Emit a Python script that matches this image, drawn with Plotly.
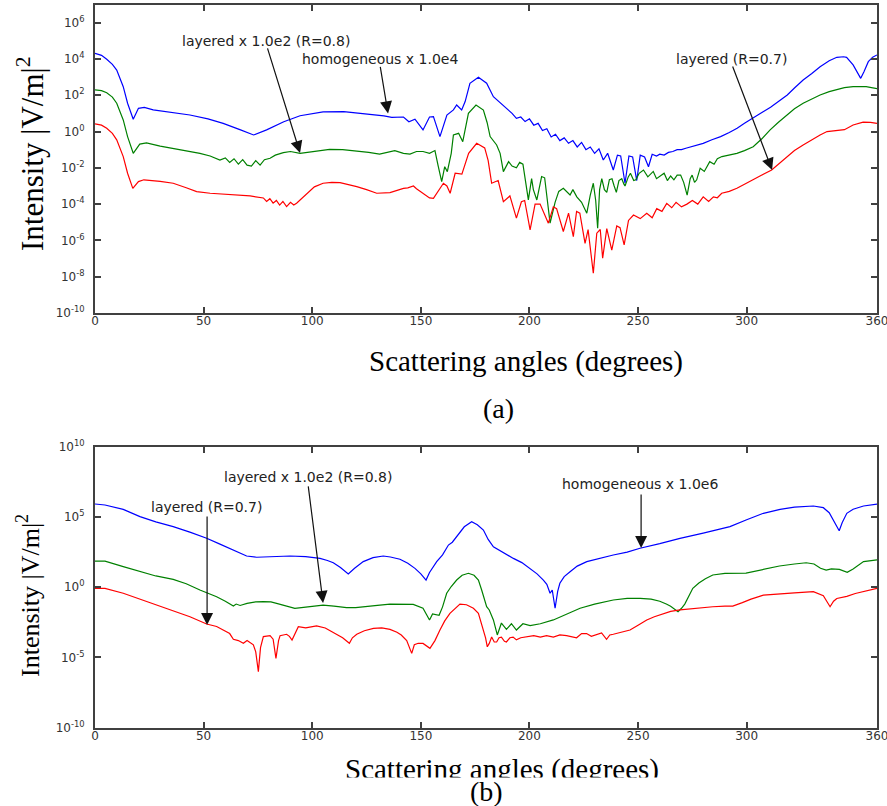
import plotly.graph_objects as go

W, H = 887, 806

# ---------------- Panel (a) data: angle (deg) and log10 intensity ----------------
a_blue_ang = [0, 3, 5.4, 8, 10, 13, 15, 17.6, 20, 22.7, 26.8, 35, 43.7, 52, 59, 67, 73, 79, 86.9, 94.4,
              105, 114.5, 123.5, 133, 136.6, 142, 144.5, 147.3, 151, 154, 155.8, 158.8, 162, 165, 166.5,
              168.8, 170.4, 172.6, 176.5, 180.3, 183.4, 186.5, 189.6, 192, 194, 196, 198, 200, 202, 204,
              206, 208, 210, 212, 214, 216, 218, 220, 222, 224, 226, 228, 230, 232, 234, 236, 238.6,
              240.5, 242, 244, 245.8, 247.5, 249.4, 251, 253, 254.8, 256.5, 258.5, 260, 262, 264, 266,
              268, 270, 272, 276, 280, 284, 288, 292, 295.6, 299, 303, 307, 311, 315, 318.7, 322, 326,
              330, 333.8, 338, 341.5, 344.6, 346, 349, 351, 352.5, 354, 356, 358, 360]
a_blue_log = [4.31, 4.2, 3.98, 3.7, 3.39, 2.47, 1.56, 0.68, 1.28, 1.33, 1.19, 1.05, 0.91, 0.7, 0.45, 0.09,
              -0.19, 0.09, 0.54, 0.87, 1.08, 1.1, 1.0, 0.86, 0.78, 0.8, 0.54, 0.68, 0.09, 0.8, 0.82, -0.28,
              0.91, 1.19, 1.46, 1.19, 1.65, 2.66, 2.99, 2.66, 1.92, 1.6, 1.28, 1.0, 0.73, 0.8, 0.55, 0.7,
              0.35, 0.45, 0.05, 0.15, -0.3, -0.15, -0.5, -0.35, -0.65, -0.5, -0.85, -0.6, -1.0, -0.85,
              -1.2, -0.95, -1.57, -1.2, -2.12, -1.3, -1.35, -2.85, -1.35, -1.4, -2.7, -1.3, -1.4, -1.94,
              -1.25, -1.35, -1.25, -1.3, -1.15, -1.1, -1.0, -1.0, -0.92, -0.8, -0.65, -0.45, -0.28, -0.05,
              0.18, 0.45, 0.73, 1.05, 1.34, 1.68, 2.01, 2.4, 2.84, 3.2, 3.57, 3.9, 4.09, 4.12, 4.09, 3.67,
              3.2, 2.93, 3.3, 3.85, 4.1, 4.22]

a_green_ang = [0, 3, 5.4, 8, 10, 13, 15, 17.6, 20.6, 23.7, 30, 36, 42, 48.3, 53, 57.5, 60, 62, 64, 66, 68,
               70, 72, 74, 76, 78, 80.6, 83, 86.7, 90, 94.4, 100, 108, 114, 120.5, 126, 131, 138, 142, 145,
               148, 151, 154, 156.5, 158, 159.6, 161, 162.2, 164, 165, 167.4, 169.3, 171.9, 175.4, 178.8,
               180.5, 181.9, 183.4, 184.9, 186.5, 188, 190.4, 192, 194, 195.5, 197, 199.5, 201, 201.8,
               203.4, 205.6, 207, 209.5, 211.8, 213.5, 215.6, 217, 218.7, 220, 221.8, 224, 226.4, 228,
               229.4, 230.5, 231.4, 232.3, 233.3, 234.5, 235.6, 236.8, 238, 239, 240, 241.2, 242.5, 243.5,
               244, 245.5, 246.5, 248, 249, 250.5, 252.5, 254.5, 256, 257, 258.5, 260, 262, 263.5, 265,
               266.5, 268, 269.6, 271, 272.6, 274, 274.9, 276, 277, 278.6, 280.5, 283, 285, 286.5, 288.6,
               292, 295.5, 299, 303, 307, 310.8, 314.5, 318.5, 322, 326, 330, 333.8, 338, 341.5, 345, 349,
               355, 360]
a_green_log = [2.29, 2.25, 2.14, 1.9, 1.56, 0.64, -0.28, -1.2, -0.69, -0.63, -0.8, -0.92, -1.05, -1.2,
               -1.35, -1.57, -1.45, -1.7, -1.5, -1.8, -1.55, -1.85, -1.9, -1.6, -1.85, -1.55, -1.47, -1.3,
               -1.16, -1.1, -1.2, -1.1, -0.98, -1.0, -1.07, -1.15, -1.24, -1.05, -1.2, -1.24, -1.1, -1.1,
               -1.2, -1.05, -1.9, -2.76, -1.94, -2.21, -1.2, -0.19, -0.1, -0.56, 1.0, 1.46, 1.18, 0.5,
               -0.28, -0.5, -0.74, -1.2, -2.21, -1.66, -1.9, -2.0, -1.7, -1.8, -3.77, -2.6, -3.2, -3.77,
               -2.48, -2.55, -5.05, -3.9, -3.3, -3.13, -3.3, -3.5, -3.2, -3.6, -3.9, -4.5, -3.5, -2.85,
               -3.8, -5.33, -3.2, -2.6, -3.2, -3.35, -2.65, -2.6, -3.0, -3.35, -2.7, -2.6, -2.9, -3.0,
               -2.5, -2.3, -2.7, -2.66, -2.3, -2.12, -2.5, -2.3, -2.2, -2.6, -2.48, -2.3, -2.7, -2.45,
               -2.66, -2.4, -2.4, -2.8, -3.5, -2.6, -2.4, -2.8, -2.66, -2.02, -2.2, -1.66, -1.8, -1.5,
               -1.38, -1.3, -1.2, -1.05, -0.84, -0.4, 0.09, 0.5, 0.91, 1.25, 1.56, 1.8, 2.01, 2.2, 2.33,
               2.42, 2.47, 2.47, 2.36]

a_red_ang = [0, 3, 5.4, 8, 10, 13, 15, 17.4, 20, 22.5, 30, 36, 42, 46.8, 53, 59, 65, 71.4, 77.5, 79, 80.5,
             82, 83.5, 85, 86.5, 88.2, 90, 91.5, 92.8, 95, 97.5, 101, 105, 109, 112.8, 116, 120.5, 125,
             129.7, 135.8, 139, 142, 144, 146.6, 148, 151, 154, 155.8, 158, 160.4, 162, 163.5, 165.8,
             168.9, 172, 175.7, 179.4, 181, 182.6, 185.6, 188, 191, 194, 196.3, 197.8, 200.3, 202.6,
             204.9, 208.7, 211, 212.5, 215.6, 218, 220.2, 221.7, 223.2, 225.6, 227, 229.4, 231, 232.6,
             233.7, 235.6, 237.9, 240.2, 241.7, 243.6, 245.6, 247.9, 251, 254, 256.5, 258.6, 261, 263.2,
             265.5, 267.5, 270, 272.5, 275, 277.5, 280, 282.5, 284.7, 286.5, 288.5, 292, 295.5, 299, 303,
             307, 311.5, 315, 318.5, 322, 326, 330, 333.8, 337, 341.5, 345, 349, 353.6, 357, 360]
a_red_log = [0.42, 0.35, 0.18, -0.1, -0.46, -1.38, -2.3, -3.13, -2.76, -2.66, -2.75, -2.85, -3.1, -3.31,
             -3.4, -3.44, -3.5, -3.55, -3.66, -3.85, -3.7, -3.95, -3.8, -4.05, -3.85, -4.14, -3.9, -4.05,
             -3.95, -3.7, -3.4, -3.05, -2.85, -2.8, -2.82, -2.9, -3.04, -3.2, -3.4, -3.37, -3.25, -3.13,
             -3.1, -3.0, -3.15, -3.4, -3.66, -3.68, -3.3, -2.85, -3.0, -3.4, -2.3, -2.35, -1.2, -0.65,
             -0.9, -1.6, -2.85, -2.7, -3.87, -3.55, -4.77, -3.87, -3.8, -5.42, -4.0, -4.0, -5.05, -4.15,
             -4.25, -5.51, -4.5, -5.79, -4.4, -4.5, -6.16, -5.4, -7.81, -5.6, -5.4, -6.98, -5.35, -6.53,
             -5.2, -5.3, -6.25, -4.9, -4.6, -4.8, -4.5, -4.75, -4.25, -4.4, -3.96, -4.2, -3.9, -4.15,
             -4.0, -3.8, -4.0, -3.6, -3.85, -3.6, -3.65, -3.4, -3.3, -3.13, -2.9, -2.67, -2.4, -2.12,
             -1.75, -1.38, -1.05, -0.74, -0.45, -0.19, 0.0, 0.05, 0.1, 0.36, 0.52, 0.5, 0.45]

# ---------------- Panel (b) data ----------------
b_blue_ang = [0, 4.6, 13, 20.7, 28, 36, 44, 51.4, 57, 62, 66, 69.8, 74.4, 82, 89.8, 97, 103.6, 107, 109.7,
              113, 116.6, 119.5, 123.5, 128, 132.7, 136, 140.4, 144, 147.3, 150, 152.4, 154, 157.3, 160,
              162.7, 164.5, 166.5, 170, 173.4, 176, 178.8, 181, 183.4, 188, 192.6, 196.5, 200.3, 203.5,
              206.4, 208, 209.5, 210.5, 211.8, 213, 214, 216, 218.7, 222, 226.4, 232, 238.6, 245, 250.9,
              260, 269.3, 280, 292.3, 300, 307.7, 315.4, 322, 330.7, 335.3, 338, 339.9, 342.6, 344,
              346.1, 349, 353.8, 360]
b_blue_log = [5.92, 5.85, 5.54, 5.02, 4.65, 4.31, 3.9, 3.48, 3.1, 2.77, 2.45, 2.22, 2.13, 2.18, 2.22, 2.18,
              2.05, 1.9, 1.74, 1.4, 0.94, 1.35, 1.82, 2.1, 2.22, 2.15, 1.99, 1.7, 1.34, 0.95, 0.51, 1.05,
              1.82, 2.3, 3.0, 3.2, 3.59, 4.3, 4.66, 4.45, 4.07, 3.4, 2.88, 2.45, 2.05, 1.75, 1.34, 0.95,
              0.51, 0.2, -0.43, -0.2, -1.5, -0.3, 0.28, 0.75, 1.1, 1.5, 1.82, 2.05, 2.29, 2.5, 2.77, 3.1,
              3.48, 3.85, 4.31, 4.8, 5.26, 5.54, 5.7, 5.78, 5.66, 5.3, 4.78, 4.02, 4.6, 5.26, 5.55, 5.78,
              5.92]

b_green_ang = [0, 4.6, 13, 20.7, 28, 36, 42, 48.3, 56, 60, 63.7, 65, 66.8, 70, 74, 77.5, 81, 83.6, 88, 92,
               98, 105, 110, 115.8, 120, 125, 130, 135.8, 141, 146.5, 151, 152.5, 154, 155.4, 156.4,
               158.4, 160, 161.9, 164, 166.5, 169, 171.9, 174.5, 176.5, 178, 180.3, 181.5, 183.4, 185.2,
               187.1, 189.4, 191.7, 194, 197, 200.3, 205, 211, 217, 223.3, 230, 238.6, 245, 251, 256, 260,
               263, 265, 268.4, 270, 271.5, 273, 275.2, 278, 281, 284.4, 290, 299.7, 307, 315.1, 322,
               327.4, 331, 334, 336.6, 339, 342.7, 346.3, 349, 353.8, 360]
b_green_log = [1.86, 1.86, 1.46, 1.1, 0.8, 0.56, 0.25, -0.2, -0.68, -1.0, -1.34, -1.2, -1.3, -1.15, -1.05,
               -1.03, -1.05, -1.15, -1.35, -1.5, -1.4, -1.27, -1.35, -1.45, -1.45, -1.4, -1.3, -1.2,
               -1.2, -1.22, -1.5, -1.9, -2.33, -1.9, -1.95, -2.0, -1.4, -0.43, 0.05, 0.51, 0.85, 0.99,
               0.85, 0.51, -0.2, -1.39, -1.62, -2.33, -3.4, -2.55, -3.0, -2.6, -3.05, -2.6, -2.74, -2.6,
               -2.33, -1.95, -1.5, -1.2, -0.91, -0.8, -0.79, -0.85, -1.0, -1.2, -1.35, -1.74, -1.5, -1.2,
               -0.7, -0.08, 0.3, 0.6, 0.87, 0.98, 1.0, 1.25, 1.51, 1.65, 1.74, 1.65, 1.35, 1.22, 1.3,
               1.27, 1.06, 1.3, 1.82, 1.94]

b_red_ang = [0, 4.6, 13, 20, 28.4, 36, 43.7, 51.4, 56, 59, 62, 63.7, 66, 68.3, 70, 72.9, 74, 75.2, 76.2,
             77.5, 80.6, 82, 83.3, 84.5, 85.2, 88.2, 89.5, 90.7, 92, 93.6, 97, 102, 106, 111.3, 114,
             117.1, 118.5, 120.5, 124, 128.2, 132, 135.8, 139, 141, 143.5, 145.8, 147, 148.8, 151, 154.2,
             156.5, 158.8, 161, 163.4, 168, 171, 174.2, 176.5, 178.8, 179.8, 180.6, 181.5, 182.6, 183.8,
             184.9, 186, 187.1, 188.5, 189.4, 191, 192.5, 194, 196, 198.7, 202, 205, 207.9, 211, 214,
             217.1, 219.5, 221.7, 224, 226.3, 228.5, 230.9, 233.2, 235.5, 237, 238.6, 242, 246.3, 250,
             254, 257.5, 261.7, 265, 269.3, 276, 284.4, 290, 293.6, 298, 302, 307.7, 315.4, 322, 330.7,
             335.3, 338.4, 340, 341.5, 346.1, 350, 353.8, 360]
b_red_log = [-0.08, -0.08, -0.43, -0.8, -1.27, -1.7, -2.1, -2.62, -2.8, -3.05, -3.3, -3.71, -3.8, -3.99,
             -3.8, -4.1, -4.6, -6.01, -4.3, -3.52, -3.45, -3.7, -5.06, -3.8, -3.45, -3.35, -3.5, -3.76,
             -3.3, -2.81, -2.9, -2.75, -2.9, -3.4, -3.6, -3.99, -3.6, -3.35, -3.1, -2.93, -2.9, -3.0,
             -3.2, -3.4, -3.8, -4.71, -4.1, -3.99, -4.0, -4.35, -3.8, -3.05, -2.4, -1.86, -1.2, -1.25,
             -1.5, -1.86, -3.05, -3.6, -4.24, -4.0, -3.55, -3.9, -3.9, -3.6, -3.55, -3.85, -3.9, -3.6,
             -3.55, -3.75, -3.6, -3.52, -3.45, -3.55, -3.45, -3.55, -3.4, -3.45, -3.5, -3.6, -3.3, -3.3,
             -3.5, -3.35, -3.25, -3.71, -3.4, -3.35, -3.2, -3.05, -2.7, -2.33, -2.1, -1.86, -1.72, -1.62,
             -1.5, -1.39, -1.35, -1.35, -1.1, -0.85, -0.56, -0.5, -0.4, -0.32, -0.6, -1.39, -1.0, -0.8,
             -0.65, -0.45, -0.32, -0.08]

# tick definitions
x_ticks = [0, 50, 100, 150, 200, 250, 300, 360]
a_yexp = [6, 4, 2, 0, -2, -4, -6, -8, -10]
b_yexp = [10, 5, 0, -5, -10]

BLUE, GREEN, RED = "#0000ff", "#008000", "#ff0000"


def px_x(px):
    return px / W


def px_y(py):
    return 1 - py / H


fig = go.Figure()

series = [
    ("x", "y", a_blue_ang, a_blue_log, BLUE),
    ("x", "y", a_green_ang, a_green_log, GREEN),
    ("x", "y", a_red_ang, a_red_log, RED),
    ("x2", "y2", b_blue_ang, b_blue_log, BLUE),
    ("x2", "y2", b_green_ang, b_green_log, GREEN),
    ("x2", "y2", b_red_ang, b_red_log, RED),
]
for xa, ya, ang, lg, col in series:
    fig.add_trace(go.Scatter(x=ang, y=[10 ** v for v in lg], mode="lines", xaxis=xa, yaxis=ya,
                             line=dict(color=col, width=1.2), showlegend=False, hoverinfo="skip"))

tickfont = dict(family="DejaVu Sans", size=12, color="#333333")
axis_common = dict(showline=True, linecolor="#404040", linewidth=2, mirror="ticks", ticks="inside",
                   ticklen=6, tickcolor="#404040", tickwidth=1.5, showgrid=False, zeroline=False,
                   tickfont=tickfont, automargin=False)

xdom = [px_x(95), px_x(877)]
fig.update_layout(
    width=W, height=H, margin=dict(l=0, r=0, t=0, b=0, pad=0, autoexpand=False),
    paper_bgcolor="white", plot_bgcolor="white",
    xaxis=dict(domain=xdom, range=[0, 360], tickvals=x_ticks, ticktext=[str(v) for v in x_ticks],
               anchor="y", ticklabelstandoff=-4, ticklabeloverflow="allow", **axis_common),
    yaxis=dict(domain=[px_y(313), px_y(4.5)], type="log", range=[-10, 7],
               tickvals=[10.0 ** e for e in a_yexp],
               ticktext=["10<sup>%d</sup>" % e for e in a_yexp], anchor="x", ticklabelstandoff=6,
               **axis_common),
    xaxis2=dict(domain=xdom, range=[0, 360], tickvals=x_ticks, ticktext=[str(v) for v in x_ticks],
                anchor="y2", ticklabelstandoff=-4, ticklabeloverflow="allow", **axis_common),
    yaxis2=dict(domain=[px_y(727.7), px_y(446.7)], type="log", range=[-10, 10],
                tickvals=[10.0 ** e for e in b_yexp],
                ticktext=["10<sup>%d</sup>" % e for e in b_yexp], anchor="x2", ticklabelstandoff=6,
                **axis_common),
)

ann = []
lab_font = dict(family="DejaVu Sans", size=14, color="#222222")
serif = "Liberation Serif"


def text_ann(txt, cx, cy, font, **kw):
    d = dict(text=txt, x=px_x(cx), y=px_y(cy), xref="paper", yref="paper", showarrow=False,
             xanchor="center", yanchor="middle", font=font)
    d.update(kw)
    return d


def arrow_ann(xref, yref, x, y, ax, ay):
    return dict(text="", x=x, y=y, xref=xref, yref=yref, ax=ax, ay=ay, showarrow=True,
                arrowhead=2, arrowsize=2, arrowwidth=1.2, arrowcolor="#111111")


# panel (a) labels
ann.append(text_ann("layered x 1.0e2 (R=0.8)", 266, 41, lab_font))
ann.append(text_ann("homogeneous x 1.0e4", 380, 59, lab_font))
ann.append(text_ann("layered (R=0.7)", 731, 59, lab_font))
ann.append(arrow_ann("x", "y", 94.4, -1.18, -33, -106))
ann.append(arrow_ann("x", "y", 134.9, 1.0, -8, -48))
ann.append(arrow_ann("x", "y", 311.7, -2.12, -40, -105))
# panel (b) labels
ann.append(text_ann("layered x 1.0e2 (R=0.8)", 308, 477, lab_font))
ann.append(text_ann("layered (R=0.7)", 206, 507, lab_font))
ann.append(text_ann("homogeneous x 1.0e6", 640, 484, lab_font))
ann.append(arrow_ann("x2", "y2", 105, -1.12, -15, -118))
ann.append(arrow_ann("x2", "y2", 51.6, -2.69, 0, -110))
ann.append(arrow_ann("x2", "y2", 251.4, 2.79, 0, -55))

# axis titles
ann.append(text_ann("Intensity |V/m|<sup>2</sup>", 30, 154, dict(family=serif, size=31, color="black"),
                    textangle=-90))
ann.append(text_ann("Intensity |V/m|<sup>2</sup>", 28, 596, dict(family=serif, size=26, color="black"),
                    textangle=-90))
ann.append(text_ann("Scattering angles (degrees)", 526, 361, dict(family=serif, size=29, color="black")))
ann.append(text_ann("(a)", 498, 408, dict(family=serif, size=28, color="black")))
ann.append(text_ann("Scattering angles (degrees)", 502, 769, dict(family=serif, size=29, color="black")))
ann.append(dict(text=" ", x=px_x(502), y=px_y(777), xref="paper", yref="paper", showarrow=False,
                xanchor="center", yanchor="top", width=360, height=27, bgcolor="white",
                font=dict(size=10)))
ann.append(text_ann("(b)", 487, 791, dict(family=serif, size=28, color="black")))

fig.update_layout(annotations=ann)
fig.write_html("out.html", config={"displayModeBar": False},
               post_script="document.body.style.margin='0px';document.body.style.padding='0px';"
                           "document.documentElement.style.overflow='hidden';")
